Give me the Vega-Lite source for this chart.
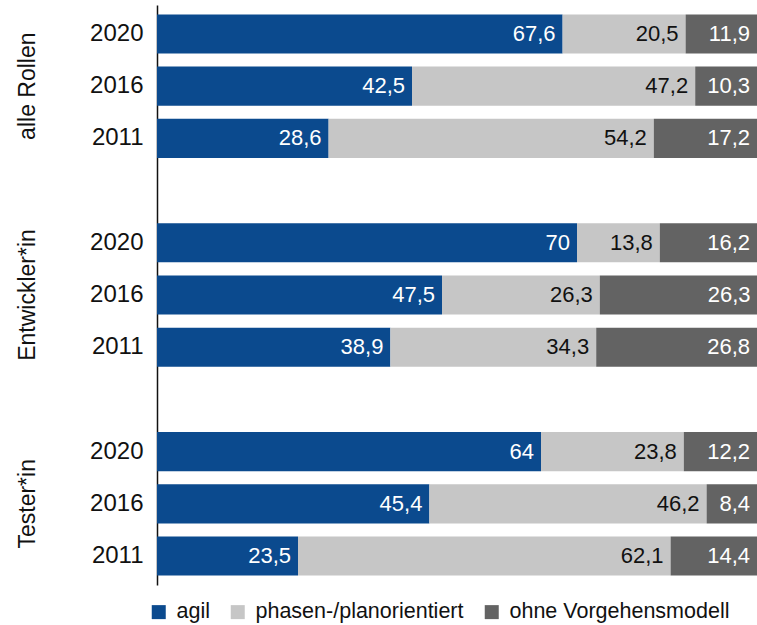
{
  "$schema": "https://vega.github.io/schema/vega-lite/v6.json",
  "width": 600,
  "height": 580,
  "autosize": "none",
  "padding": {"left": 157, "top": 5, "right": 0, "bottom": 40},
  "background": "white",
  "config": {
    "font": "Liberation Sans",
    "view": {"stroke": null},
    "locale": {"number": {"decimal": ",", "thousands": ".", "grouping": [3], "currency": ["", " €"]}}
  },
  "data": {
    "values": [
      {"row": "alle Rollen 2020", "typ": "agil", "k": 1, "v": 67.6},
      {"row": "alle Rollen 2020", "typ": "phasen-/planorientiert", "k": 2, "v": 20.5},
      {"row": "alle Rollen 2020", "typ": "ohne Vorgehensmodell", "k": 3, "v": 11.9},
      {"row": "alle Rollen 2016", "typ": "agil", "k": 1, "v": 42.5},
      {"row": "alle Rollen 2016", "typ": "phasen-/planorientiert", "k": 2, "v": 47.2},
      {"row": "alle Rollen 2016", "typ": "ohne Vorgehensmodell", "k": 3, "v": 10.3},
      {"row": "alle Rollen 2011", "typ": "agil", "k": 1, "v": 28.6},
      {"row": "alle Rollen 2011", "typ": "phasen-/planorientiert", "k": 2, "v": 54.2},
      {"row": "alle Rollen 2011", "typ": "ohne Vorgehensmodell", "k": 3, "v": 17.2},
      {"row": "Entwickler*in 2020", "typ": "agil", "k": 1, "v": 70},
      {"row": "Entwickler*in 2020", "typ": "phasen-/planorientiert", "k": 2, "v": 13.8},
      {"row": "Entwickler*in 2020", "typ": "ohne Vorgehensmodell", "k": 3, "v": 16.2},
      {"row": "Entwickler*in 2016", "typ": "agil", "k": 1, "v": 47.5},
      {"row": "Entwickler*in 2016", "typ": "phasen-/planorientiert", "k": 2, "v": 26.3},
      {"row": "Entwickler*in 2016", "typ": "ohne Vorgehensmodell", "k": 3, "v": 26.3},
      {"row": "Entwickler*in 2011", "typ": "agil", "k": 1, "v": 38.9},
      {"row": "Entwickler*in 2011", "typ": "phasen-/planorientiert", "k": 2, "v": 34.3},
      {"row": "Entwickler*in 2011", "typ": "ohne Vorgehensmodell", "k": 3, "v": 26.8},
      {"row": "Tester*in 2020", "typ": "agil", "k": 1, "v": 64},
      {"row": "Tester*in 2020", "typ": "phasen-/planorientiert", "k": 2, "v": 23.8},
      {"row": "Tester*in 2020", "typ": "ohne Vorgehensmodell", "k": 3, "v": 12.2},
      {"row": "Tester*in 2016", "typ": "agil", "k": 1, "v": 45.4},
      {"row": "Tester*in 2016", "typ": "phasen-/planorientiert", "k": 2, "v": 46.2},
      {"row": "Tester*in 2016", "typ": "ohne Vorgehensmodell", "k": 3, "v": 8.4},
      {"row": "Tester*in 2011", "typ": "agil", "k": 1, "v": 23.5},
      {"row": "Tester*in 2011", "typ": "phasen-/planorientiert", "k": 2, "v": 62.1},
      {"row": "Tester*in 2011", "typ": "ohne Vorgehensmodell", "k": 3, "v": 14.4}
    ]
  },
  "transform": [
    {"stack": "v", "groupby": ["row"], "sort": [{"field": "k", "order": "ascending"}], "as": ["x0", "x1"]}
  ],
  "resolve": {"axis": {"y": "independent"}},
  "layer": [
    {
      "mark": {"type": "bar", "clip": true},
      "encoding": {
        "y": {
          "field": "row", "type": "nominal",
          "scale": {
            "domain": ["alle Rollen 2020", "alle Rollen 2016", "alle Rollen 2011", "gap1",
                       "Entwickler*in 2020", "Entwickler*in 2016", "Entwickler*in 2011", "gap2",
                       "Tester*in 2020", "Tester*in 2016", "Tester*in 2011"],
            "paddingInner": 0.25, "paddingOuter": 0.18
          },
          "axis": {
            "title": null, "orient": "left", "ticks": false, "tickSize": 0, "grid": false,
            "domain": true, "domainColor": "#111111", "domainWidth": 1.5,
            "labelExpr": "indexof(datum.value, 'gap') >= 0 ? '' : slice(datum.value, -4)",
            "labelFontSize": 24, "labelColor": "#111111", "labelPadding": 14,
            "labelAlign": "right", "labelBaseline": "middle"
          }
        },
        "x": {"field": "x0", "type": "quantitative", "scale": {"domain": [0, 100], "nice": false, "zero": true}, "axis": null},
        "x2": {"field": "x1"},
        "color": {
          "field": "typ", "type": "nominal",
          "scale": {
            "domain": ["agil", "phasen-/planorientiert", "ohne Vorgehensmodell"],
            "range": ["#0b4a8e", "#c6c6c6", "#636363"]
          },
          "legend": {
            "title": null, "orient": "none", "legendX": -9, "legendY": 596, "direction": "horizontal",
            "symbolType": "square", "symbolSize": 196, "symbolStrokeWidth": 0,
            "labelFontSize": 21.5, "labelColor": "#111111", "labelOffset": 7, "labelLimit": 400,
            "columnPadding": 17
          }
        }
      }
    },
    {
      "mark": {"type": "text", "align": "right", "baseline": "middle", "dx": -7, "fontSize": 22},
      "encoding": {
        "y": {
          "field": "row", "type": "nominal",
          "scale": {
            "domain": ["alle Rollen 2020", "alle Rollen 2016", "alle Rollen 2011", "gap1",
                       "Entwickler*in 2020", "Entwickler*in 2016", "Entwickler*in 2011", "gap2",
                       "Tester*in 2020", "Tester*in 2016", "Tester*in 2011"],
            "paddingInner": 0.25, "paddingOuter": 0.18
          },
          "axis": {
            "title": null, "orient": "left", "ticks": false, "tickSize": 0, "grid": false, "domain": false,
            "labelExpr": "slice(datum.value, -4) == '2016' ? slice(datum.value, 0, -5) : ''",
            "labelFontSize": 23, "labelColor": "#111111", "labelPadding": 130,
            "labelAngle": -90, "labelAlign": "center", "labelBaseline": "middle", "labelLimit": 300
          }
        },
        "x": {"field": "x1", "type": "quantitative", "scale": {"domain": [0, 100], "nice": false, "zero": true}, "axis": null},
        "text": {"field": "v", "type": "quantitative", "format": ".1~f"},
        "color": {
          "condition": {"test": "datum.typ == 'phasen-/planorientiert'", "value": "#111111"},
          "value": "#ffffff"
        }
      }
    }
  ]
}
